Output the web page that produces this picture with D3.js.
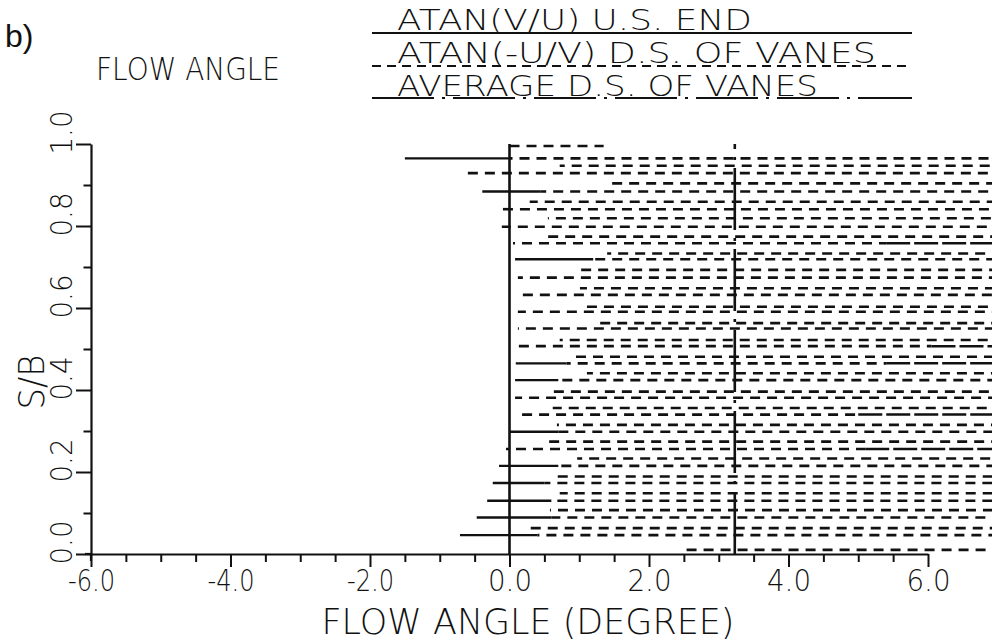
<!DOCTYPE html>
<html>
<head>
<meta charset="utf-8">
<script src="https://cdn.jsdelivr.net/npm/d3@7"></script>
<style>
  body { margin: 0; background: #fff; }
  svg { display: block; background: #fff; }
  text { font-family: "DejaVu Sans", sans-serif; font-weight: 200; fill: #111; }
</style>
</head>
<body>
<svg id="chart" width="992" height="641"></svg>
<script>
// axis ticks and labels
var xTicks = [-6, -5.5, -5, -4.5, -4, -3.5, -3, -2.5, -2, -1.5, -1, -0.5, 0,
              0.5, 1, 1.5, 2, 2.5, 3, 3.5, 4, 4.5, 5, 5.5, 6];
var xMajor = [-6, -4, -2, 0, 2, 4, 6];
var xLabels = ["-6.0", "-4.0", "-2.0", "0.0", "2.0", "4.0", "6.0"];
var yTicks = [0, 0.1, 0.2, 0.3, 0.4, 0.5, 0.6, 0.7, 0.8, 0.9, 1.0];
var yMajor = [0, 0.2, 0.4, 0.6, 0.8, 1.0];
var yLabels = ["0.0", "0.2", "0.4", "0.6", "0.8", "1.0"];

// legend
var legendNames = ["ATAN(V/U) U.S. END", "ATAN(-U/V) D.S. OF VANES", "AVERAGE D.S. OF VANES"];

// upstream angle (solid) and downstream average (dash-dot), degrees
var upstreamAngle = 0.0;
var averageAngle = 3.23;

// downstream traverse rows: S/B level, start angle, end angle
var rowSB    = [0.995, 0.965, 0.929, 0.884, 0.841, 0.798, 0.758, 0.719, 0.674, 0.632, 0.591, 0.550, 0.507,
                0.465, 0.424, 0.381, 0.340, 0.298, 0.256, 0.215, 0.173, 0.130, 0.089, 0.046, 0.010];
var rowStart = [0.00, -1.50, -0.64, -0.39, -0.18, -0.11, 0.05, 0.08, 0.12, 0.12, 0.12, 0.12, 0.12,
                0.09, 0.08, 0.08, 0.08, 0.00, -0.05, -0.15, -0.24, -0.32, -0.47, -0.71, 2.51];
var rowEnd   = [1.35, 7.2, 7.2, 7.2, 7.2, 7.2, 7.2, 7.2, 7.2, 7.2, 7.2, 7.2, 7.2,
                7.2, 7.2, 7.2, 7.2, 7.2, 7.2, 7.2, 7.2, 7.2, 7.2, 7.2, 7.2];
// angle up to which the trace runs unbroken (null = dashed all along)
var rowSolidTo = [null, 0.00, null, 0.44, null, null, null, 1.20, null, null, null, null, null,
                  0.82, 0.70, null, null, 0.70, null, 0.70, 0.50, 0.60, 0.60, 0.40, null];
// angle from which the trace turns to long, nearly joined dashes again
var rowTailFrom = [null, null, null, null, null, null, 5.40, null, null, null, null, null, 6.05,
                   5.40, null, null, 5.00, null, 5.10, null, null, null, null, null, null];
// second trace splitting above each row
var branchSB   = [null, null, 0.947, 0.904, 0.859, 0.819, 0.774, 0.733, 0.693, 0.648, 0.603, 0.563, 0.522,
                  0.481, 0.441, 0.396, 0.356, 0.315, 0.274, 0.233, 0.189, 0.148, 0.107, 0.063, null];
var branchFrom = [null, null, 0.72, 1.40, 0.29, 0.55, 0.54, 1.40, 0.97, 1.01, 1.01, 1.30, 0.72,
                  0.91, 1.11, 0.55, 0.62, 0.68, 0.54, 0.97, 0.62, 0.72, 0.58, 0.29, null];

var svg = d3.select("#chart");
var ink = "#111";

var x = d3.scaleLinear().domain([-6, 6]).range([91, 928]);
var y = d3.scaleLinear().domain([0, 1]).range([554, 144]);

var line = d3.line()
    .x(function(d) { return x(d[0]); })
    .y(function(d) { return y(d[1]); });

// header
svg.append("text").attr("x", 5).attr("y", 47)
    .style("font-family", "'Liberation Sans', Arial, sans-serif")
    .style("font-weight", "normal")
    .style("font-size", "32px").text("b)");

svg.append("text").attr("x", 96).attr("y", 80)
    .style("font-size", "32px")
    .attr("textLength", 184).attr("lengthAdjust", "spacingAndGlyphs")
    .text("FLOW ANGLE");

var legendBase = [30, 63, 96];
var legendLen = [355, 479, 421];
var legendLineY = [33, 66, 98];
var legendDash = [null, "9,6", "62,8,3,8"];
legendNames.forEach(function(name, i) {
  svg.append("text").attr("x", 397).attr("y", legendBase[i])
      .style("font-size", "28px")
      .attr("textLength", legendLen[i]).attr("lengthAdjust", "spacingAndGlyphs")
      .text(name);
  svg.append("line")
      .attr("x1", 372).attr("x2", 912)
      .attr("y1", legendLineY[i]).attr("y2", legendLineY[i])
      .attr("stroke", ink).attr("stroke-width", 2.2)
      .attr("stroke-dasharray", legendDash[i]);
});

// x axis
var gx = svg.append("g")
    .attr("transform", "translate(0," + y(0) + ")")
    .call(d3.axisBottom(x)
      .tickValues(xTicks)
      .tickSize(13)
      .tickSizeOuter(0)
      .tickFormat(function(d) {
        var k = xMajor.indexOf(d);
        return k < 0 ? "" : xLabels[k];
      }));
gx.select(".domain").attr("stroke", ink).attr("stroke-width", 2.2);
gx.selectAll(".tick line")
    .attr("stroke", ink).attr("stroke-width", 2)
    .attr("y2", function(d) { return xMajor.indexOf(d) < 0 ? 8 : 13; });
gx.selectAll(".tick text")
    .attr("y", 37).attr("dy", 0)
    .style("font-family", "'DejaVu Sans', sans-serif")
    .style("font-weight", "200")
    .style("font-size", "30px").attr("fill", ink)
    .attr("textLength", function(d) {
      var k = xMajor.indexOf(d);
      return k < 0 ? null : (xLabels[k].length > 3 ? 47 : 44);
    })
    .attr("lengthAdjust", "spacingAndGlyphs");

// y axis
var gy = svg.append("g")
    .attr("transform", "translate(" + x(-6) + ",0)")
    .call(d3.axisLeft(y)
      .tickValues(yTicks)
      .tickSize(15)
      .tickSizeOuter(0)
      .tickFormat(function(d) {
        var k = yMajor.indexOf(d);
        return k < 0 ? "" : yLabels[k];
      }));
gy.select(".domain").attr("stroke", ink).attr("stroke-width", 2.2);
gy.selectAll(".tick line")
    .attr("stroke", ink).attr("stroke-width", 2)
    .attr("x2", function(d) { return yMajor.indexOf(d) < 0 ? -7.5 : -15; });
gy.selectAll(".tick text")
    .attr("x", 0).attr("dy", "0.36em")
    .attr("text-anchor", "middle")
    .attr("transform", "translate(-30,-12) rotate(-90)")
    .style("font-family", "'DejaVu Sans', sans-serif")
    .style("font-weight", "200")
    .style("font-size", "30px").attr("fill", ink)
    .attr("textLength", function(d) { return yMajor.indexOf(d) < 0 ? null : 44; })
    .attr("lengthAdjust", "spacingAndGlyphs");

// small overshoot of the axis lines at the origin
svg.append("line").attr("x1", x(-6) - 6).attr("x2", x(-6))
    .attr("y1", y(0)).attr("y2", y(0)).attr("stroke", ink).attr("stroke-width", 2.2);
svg.append("line").attr("x1", x(-6)).attr("x2", x(-6))
    .attr("y1", y(0)).attr("y2", y(0) + 7).attr("stroke", ink).attr("stroke-width", 2.2);

// axis titles
svg.append("text").attr("x", 528).attr("y", 634)
    .attr("text-anchor", "middle")
    .style("font-size", "35px")
    .attr("textLength", 413).attr("lengthAdjust", "spacingAndGlyphs")
    .text("FLOW ANGLE (DEGREE)");

svg.append("text")
    .attr("transform", "translate(44,382) rotate(-90)")
    .attr("text-anchor", "middle")
    .style("font-size", "35px")
    .attr("textLength", 55).attr("lengthAdjust", "spacingAndGlyphs")
    .text("S/B");

// data traces
var plot = svg.append("g").attr("class", "traces")
    .attr("fill", "none").attr("stroke", ink);

rowSB.forEach(function(sb, i) {
  var from = rowStart[i];
  var to = rowTailFrom[i] !== null ? rowTailFrom[i] : rowEnd[i];
  var off = (i * 7) % 17;
  if (rowSolidTo[i] !== null) {
    plot.append("path")
        .attr("d", line([[rowStart[i], sb], [rowSolidTo[i], sb]]))
        .attr("stroke-width", 2.4);
    from = rowSolidTo[i];
  }
  plot.append("path")
      .attr("d", line([[from, sb], [to, sb]]))
      .attr("stroke-width", 2.6)
      .attr("stroke-dasharray", "10,7")
      .attr("stroke-dashoffset", off);
  if (rowTailFrom[i] !== null) {
    plot.append("path")
        .attr("d", line([[rowTailFrom[i], sb], [rowEnd[i], sb]]))
        .attr("stroke-width", 2.5)
        .attr("stroke-dasharray", "24,4");
  }
  if (branchSB[i] !== null) {
    plot.append("path")
        .attr("d", line([[branchFrom[i], branchSB[i]], [rowEnd[i], branchSB[i]]]))
        .attr("stroke-width", 2.6)
        .attr("stroke-dasharray", "10,7")
        .attr("stroke-dashoffset", (off + 8) % 17);
  }
});

// upstream angle: solid vertical
plot.append("path")
    .attr("d", line([[upstreamAngle, 0], [upstreamAngle, 1.0]]))
    .attr("stroke-width", 2.6);

// average downstream: dash-dot vertical
plot.append("path")
    .attr("d", line([[averageAngle, 0], [averageAngle, 1.0]]))
    .attr("stroke-width", 2.6)
    .attr("stroke-dasharray", "62,8,3,8");
</script>
</body>
</html>
